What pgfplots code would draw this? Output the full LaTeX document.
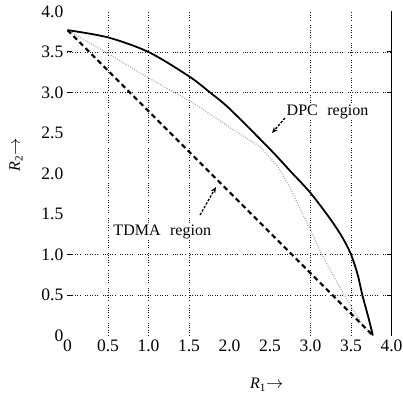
\documentclass[border=0pt]{standalone}
\usepackage{fontspec}
\setmainfont{Liberation Serif}
\newfontfamily\tnr{Liberation Serif}
\usepackage{pgfplots}
\pgfplotsset{compat=1.18}
\usetikzlibrary{arrows.meta}

% capacity region boundaries (R1, R2)
\pgfplotstableread{
x y
0    3.77
0.5  3.68
1.0  3.50
1.5  3.20
1.76 3.00
2.0  2.80
2.5  2.30
2.75 2.03
3.0  1.76
3.25 1.43
3.40 1.20
3.5  1.00
3.58 0.76
3.64 0.50
3.71 0.24
3.77 0.00
}\dpc
\pgfplotstableread{
x y
0    3.77
0.5  3.48
1.0  3.18
1.57 2.86
2.0  2.57
2.38 2.33
2.6  2.08
2.75 1.82
3.0  1.30
3.14 1.00
3.36 0.60
3.63 0.15
3.77 0.00
}\mid
\pgfplotstableread{
x y
0    3.77
3.77 0.00
}\tdma

\tikzset{gridpat/.style={line width=0.9pt, black!90,
  dash pattern=on 0.9pt off 1.5pt on 0.9pt off 1.5pt on 0.9pt off 1.5pt on 0.9pt off 1.5pt on 0.9pt off 1.5pt on 0.9pt off 4.6pt}}

\begin{document}
\begin{tikzpicture}[font=\tnr]
\begin{axis}[
  at={(0pt,0pt)}, anchor=south west,
  scale only axis, width=324pt, height=324pt,
  xmin=0, xmax=4, ymin=0, ymax=4,
  clip=false,
  axis line style={draw=none},
  xtick={0,0.5,1,1.5,2,2.5,3,3.5,4},
  xticklabels={0,0.5,1.0,1.5,2.0,2.5,3.0,3.5,4.0},
  ytick={0,0.5,1,1.5,2,2.5,3,3.5,4},
  yticklabels={0,0.5,1.0,1.5,2.0,2.5,3.0,3.5,4.0},
  major tick length=0pt,
  tick align=inside,
  tick style={black, line width=1pt},
  /pgf/number format/assume math mode=true,
  tick label style={font=\tnr\fontsize{17.5}{20}\selectfont},
  xticklabel style={inner sep=2pt, yshift=-2pt},
  yticklabel style={inner sep=4pt},
  extra x ticks={0.5,1,1.5,3,3.5},
  extra x tick labels={,,,,},
  extra x tick style={grid=major, major tick length=0pt},
  extra y ticks={0.5,1,3,3.5},
  extra y tick labels={,,,},
  extra y tick style={grid=major, major tick length=5pt},
  major grid style={gridpat},
]
\addplot[black!35, line width=1.2pt, dash pattern=on 0.9pt off 1.6pt] table {\mid};
\addplot[black, line width=2.2pt, dash pattern=on 5pt off 3.5pt] table {\tdma};
\addplot[black, line width=1.8pt, smooth] table {\dpc};

\draw[black, line width=1.2pt] (axis cs:4,0) -- (axis cs:4,4);

\node[anchor=base, fill=white, inner sep=0pt, font=\tnr\fontsize{16}{18}\selectfont]
  at (axis cs:3.21,2.71) {DPC\hspace{0.6em}region};
\node[anchor=base, fill=white, inner sep=0pt, font=\tnr\fontsize{16}{18}\selectfont]
  at (axis cs:1.17,1.24) {TDMA\hspace{0.6em}region};

\draw[black, line width=1.3pt, dash pattern=on 2.5pt off 1.5pt,
  -{Stealth[length=6pt,width=5pt]}] (axis cs:2.685,2.685) -- (axis cs:2.525,2.50);
\draw[black, line width=1.3pt, dash pattern=on 2.5pt off 1.5pt,
  -{Stealth[length=6pt,width=5pt]}] (axis cs:1.636,1.488) -- (axis cs:1.833,1.833);

\node[rotate=90, font=\tnr\fontsize{16}{18}\selectfont] at (axis cs:-0.636,2.23)
  {\textit{R}\textsubscript{2}$\rightarrow$};
\node[font=\tnr\fontsize{16}{18}\selectfont] at (axis cs:2.46,-0.61)
  {\textit{R}\textsubscript{1}$\rightarrow$};
\end{axis}
\pgfresetboundingbox
\path (-67.5pt,-57.5pt) rectangle (335.5pt,335.5pt);
\end{tikzpicture}
\end{document}
